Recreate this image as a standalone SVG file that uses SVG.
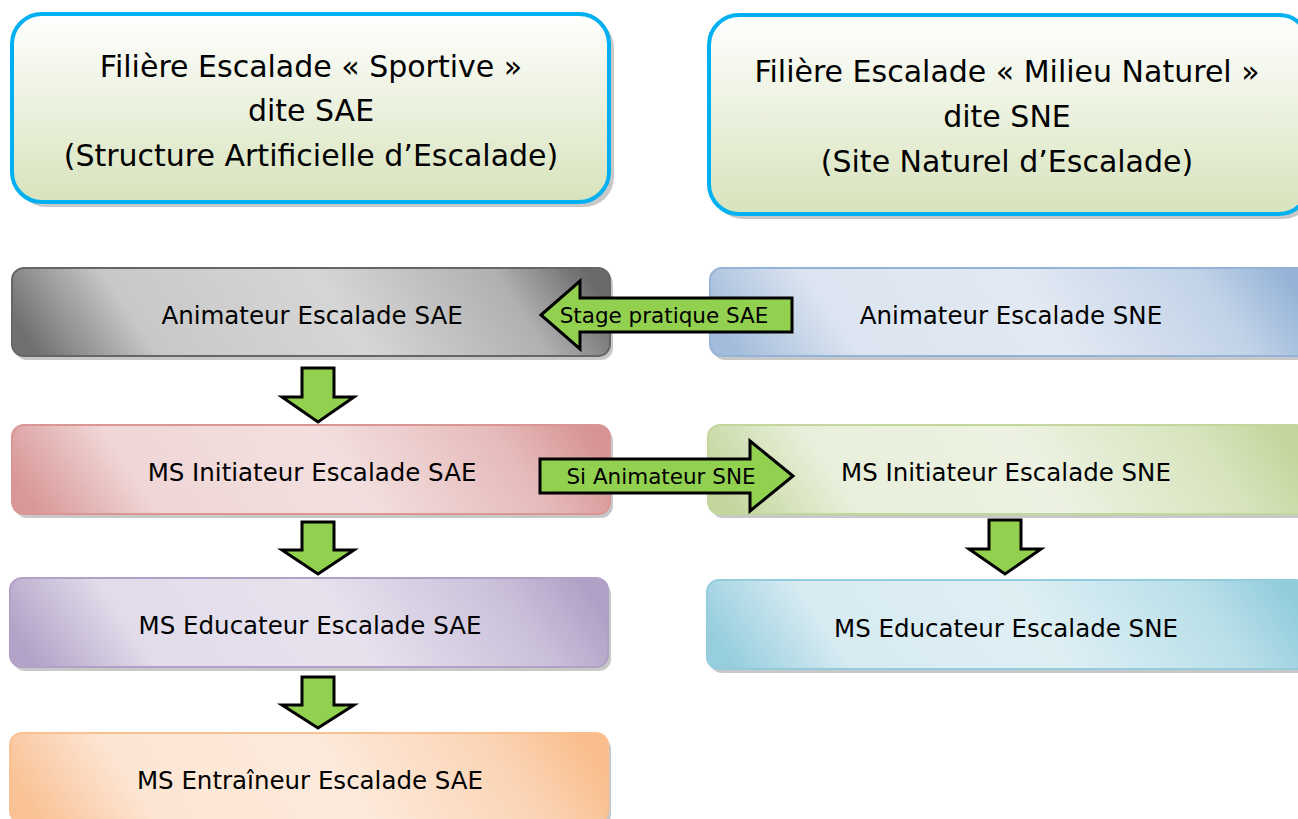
<svg xmlns="http://www.w3.org/2000/svg" width="1298" height="819" viewBox="0 0 1298 819">
<style>
text{font-family:"DejaVu Sans","Liberation Sans",sans-serif;fill:#000;text-anchor:middle}
.h{font-size:30px}
.b{font-size:24.5px}
.a{font-size:21.5px}
.arrow{fill:#92d050;stroke:#000;stroke-width:3;stroke-linejoin:miter}
.shadow{fill:#9a9a9a;opacity:0.55}
</style>
<defs>
<linearGradient id="gHead" x1="0" y1="0" x2="0" y2="1"><stop offset="0" stop-color="#ffffff"/><stop offset="1" stop-color="#d7e3bc"/></linearGradient>
<linearGradient id="gGray" x1="0" y1="0.55" x2="1" y2="0.45"><stop offset="0" stop-color="#707070"/><stop offset="0.2" stop-color="#c8c8c8"/><stop offset="0.55" stop-color="#d6d6d6"/><stop offset="0.85" stop-color="#b0b0b0"/><stop offset="1" stop-color="#6a6a6a"/></linearGradient>
<linearGradient id="gBlue" x1="0" y1="0.55" x2="1" y2="0.45"><stop offset="0" stop-color="#a3bcdb"/><stop offset="0.2" stop-color="#dbe4f0"/><stop offset="0.55" stop-color="#e2e9f3"/><stop offset="0.85" stop-color="#c2d3e8"/><stop offset="1" stop-color="#95b3d7"/></linearGradient>
<linearGradient id="gPink" x1="0" y1="0.55" x2="1" y2="0.45"><stop offset="0" stop-color="#d99898"/><stop offset="0.2" stop-color="#f0d6d6"/><stop offset="0.55" stop-color="#f3dfdf"/><stop offset="0.85" stop-color="#e6baba"/><stop offset="1" stop-color="#d79494"/></linearGradient>
<linearGradient id="gGreen" x1="0" y1="0.55" x2="1" y2="0.45"><stop offset="0" stop-color="#c3d69d"/><stop offset="0.2" stop-color="#e8efda"/><stop offset="0.55" stop-color="#edf2e2"/><stop offset="0.85" stop-color="#d7e4bd"/><stop offset="1" stop-color="#c2d59a"/></linearGradient>
<linearGradient id="gPurple" x1="0" y1="0.55" x2="1" y2="0.45"><stop offset="0" stop-color="#b3a3c8"/><stop offset="0.2" stop-color="#e2dcea"/><stop offset="0.55" stop-color="#e7e2ee"/><stop offset="0.85" stop-color="#cbc0da"/><stop offset="1" stop-color="#b1a0c6"/></linearGradient>
<linearGradient id="gTeal" x1="0" y1="0.55" x2="1" y2="0.45"><stop offset="0" stop-color="#96cede"/><stop offset="0.2" stop-color="#d8ebf2"/><stop offset="0.55" stop-color="#deeff4"/><stop offset="0.85" stop-color="#b9dfe9"/><stop offset="1" stop-color="#92ccdc"/></linearGradient>
<linearGradient id="gOrange" x1="0" y1="0.55" x2="1" y2="0.45"><stop offset="0" stop-color="#f9c194"/><stop offset="0.2" stop-color="#fde5d3"/><stop offset="0.55" stop-color="#fdeadc"/><stop offset="0.85" stop-color="#fbd3b3"/><stop offset="1" stop-color="#f9bd8c"/></linearGradient>
</defs>
<rect width="1298" height="819" fill="#fff"/>

<g id="head-sae">
<rect class="shadow" x="16" y="18" width="598" height="189" rx="30"/>
<rect x="12" y="14" width="597" height="188" rx="30" fill="url(#gHead)" stroke="#00b0f0" stroke-width="4"/>
<text class="h" x="311" y="77">Filière Escalade « Sportive »</text>
<text class="h" x="311" y="121">dite SAE</text>
<text class="h" x="311" y="166">(Structure Artificielle d’Escalade)</text>
</g>

<g id="head-sne">
<rect class="shadow" x="713" y="19" width="600" height="200" rx="30"/>
<rect x="709" y="15" width="600" height="199" rx="30" fill="url(#gHead)" stroke="#00b0f0" stroke-width="4"/>
<text class="h" x="1007" y="82">Filière Escalade « Milieu Naturel »</text>
<text class="h" x="1007" y="127">dite SNE</text>
<text class="h" x="1007" y="172">(Site Naturel d’Escalade)</text>
</g>

<g id="anim-sae">
<rect class="shadow" x="15" y="272" width="598" height="88" rx="12"/>
<rect x="12" y="268" width="598" height="88" rx="12" fill="url(#gGray)" stroke="#666" stroke-width="2"/>
<text class="b" x="312" y="324">Animateur Escalade SAE</text>
</g>

<g id="anim-sne">
<rect class="shadow" x="713" y="272" width="600" height="88" rx="12"/>
<rect x="710" y="268" width="600" height="88" rx="12" fill="url(#gBlue)" stroke="#95b3d7" stroke-width="2"/>
<text class="b" x="1011" y="324">Animateur Escalade SNE</text>
</g>

<g id="init-sae">
<rect class="shadow" x="15" y="429" width="598" height="89" rx="12"/>
<rect x="12" y="425" width="598" height="89" rx="12" fill="url(#gPink)" stroke="#d99694" stroke-width="2"/>
<text class="b" x="312" y="481">MS Initiateur Escalade SAE</text>
</g>

<g id="init-sne">
<rect class="shadow" x="711" y="429" width="600" height="89" rx="12"/>
<rect x="708" y="425" width="600" height="89" rx="12" fill="url(#gGreen)" stroke="#c3d69b" stroke-width="2"/>
<text class="b" x="1006" y="481">MS Initiateur Escalade SNE</text>
</g>

<g id="edu-sae">
<rect class="shadow" x="13" y="582" width="598" height="89" rx="12"/>
<rect x="10" y="578" width="598" height="89" rx="12" fill="url(#gPurple)" stroke="#b2a1c7" stroke-width="2"/>
<text class="b" x="310" y="634">MS Educateur Escalade SAE</text>
</g>

<g id="edu-sne">
<rect class="shadow" x="710" y="584" width="600" height="89" rx="12"/>
<rect x="707" y="580" width="600" height="89" rx="12" fill="url(#gTeal)" stroke="#93cddd" stroke-width="2"/>
<text class="b" x="1006" y="637">MS Educateur Escalade SNE</text>
</g>

<g id="entr-sae">
<rect class="shadow" x="13" y="737" width="598" height="90" rx="12"/>
<rect x="10" y="733" width="598" height="90" rx="12" fill="url(#gOrange)" stroke="#fac090" stroke-width="2"/>
<text class="b" x="310" y="789">MS Entraîneur Escalade SAE</text>
</g>

<g id="connectors">
<polygon class="arrow" points="302,368 334,368 334,397 354,397 318,422 282,397 302,397"/>
<polygon class="arrow" points="302,522 334,522 334,550 354,550 318,574 282,550 302,550"/>
<polygon class="arrow" points="302,677 334,677 334,705 354,705 318,728 282,705 302,705"/>
<polygon class="arrow" points="989,520 1021,520 1021,549 1041,549 1005,574 969,549 989,549"/>
<polygon class="arrow" points="541,315 580,281 580,298 792,298 792,332 580,332 580,349"/>
<text class="a" x="664" y="323">Stage pratique SAE</text>
<polygon class="arrow" points="540,459 750,459 750,441 793,476 750,511 750,493 540,493"/>
<text class="a" x="661" y="484">Si Animateur SNE</text>
</g>
</svg>
